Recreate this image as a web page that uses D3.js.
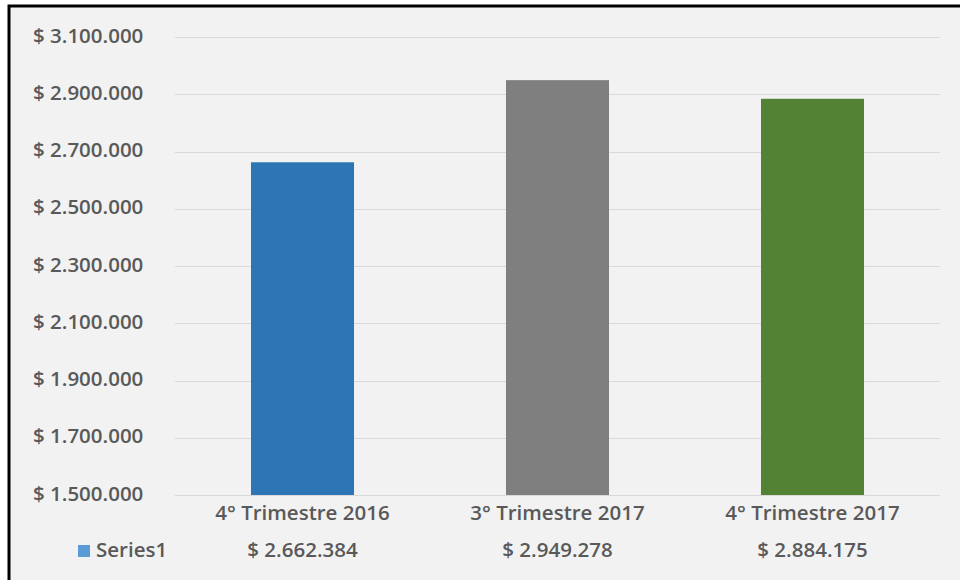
<!DOCTYPE html>
<html lang="es">
<head>
<meta charset="UTF-8">
<title>Trimestres</title>
<script src="https://d3js.org/d3.v7.min.js"></script>
<style>
  body { margin: 0; background: #fff; font-family: "Open Sans", Lato, sans-serif; }
  svg text { fill: #595959; font-weight: 600; }
</style>
</head>
<body>
<svg id="chart" width="960" height="580"></svg>
<script>
// data
const categories = ["4° Trimestre 2016", "3° Trimestre 2017", "4° Trimestre 2017"];
const values = [2662384, 2949278, 2884175];
const barColors = ["#2e75b6", "#7f7f7f", "#548235"];
const yTicks = [1500000, 1700000, 1900000, 2100000, 2300000, 2500000, 2700000, 2900000, 3100000];
const seriesName = "Series1";

const svg = d3.select("#chart");
const width = 960, height = 580;
const fontSize = 20.5;

// chart frame
svg.append("rect")
  .attr("x", 9).attr("y", 6)
  .attr("width", 960).attr("height", 580)
  .attr("fill", "#f2f2f2")
  .attr("stroke", "#000")
  .attr("stroke-width", 3);

const plot = { left: 175, right: 940, top: 37, bottom: 495 };

const x = d3.scaleBand()
  .domain(categories)
  .range([plot.left, plot.right])
  .paddingInner(0.596)
  .paddingOuter(0.298);

const y = d3.scaleLinear()
  .domain([1500000, 3100000])
  .range([plot.bottom, plot.top]);

const money = v => "$ " + d3.format(",")(v).replace(/,/g, ".");

// gridlines
svg.append("g")
  .selectAll("line")
  .data(yTicks)
  .join("line")
  .attr("x1", plot.left).attr("x2", plot.right)
  .attr("y1", d => Math.round(y(d)) + 0.5).attr("y2", d => Math.round(y(d)) + 0.5)
  .attr("stroke", "#d9d9d9")
  .attr("stroke-width", 1);

// y labels
svg.append("g")
  .selectAll("text")
  .data(yTicks)
  .join("text")
  .attr("x", 33)
  .attr("y", d => y(d) + 5.5)
  .attr("font-size", fontSize)
  .text(d => money(d));

// bars
svg.append("g")
  .selectAll("rect")
  .data(values)
  .join("rect")
  .attr("x", (d, i) => x(categories[i]))
  .attr("width", x.bandwidth())
  .attr("y", d => y(d))
  .attr("height", d => y(1500000) - y(d))
  .attr("fill", (d, i) => barColors[i]);

// data table: categories
svg.append("g")
  .selectAll("text")
  .data(categories)
  .join("text")
  .attr("x", d => x(d) + x.bandwidth() / 2)
  .attr("y", 520)
  .attr("text-anchor", "middle")
  .attr("font-size", fontSize)
  .text(d => d);

// data table: values
svg.append("g")
  .selectAll("text")
  .data(values)
  .join("text")
  .attr("x", (d, i) => x(categories[i]) + x.bandwidth() / 2)
  .attr("y", 557)
  .attr("text-anchor", "middle")
  .attr("font-size", fontSize)
  .text(d => money(d));

// legend key
svg.append("rect")
  .attr("x", 78).attr("y", 545)
  .attr("width", 12).attr("height", 12)
  .attr("fill", "#5b9bd5");
svg.append("text")
  .attr("x", 96).attr("y", 557)
  .attr("font-size", fontSize)
  .text(seriesName);
</script>
</body>
</html>
